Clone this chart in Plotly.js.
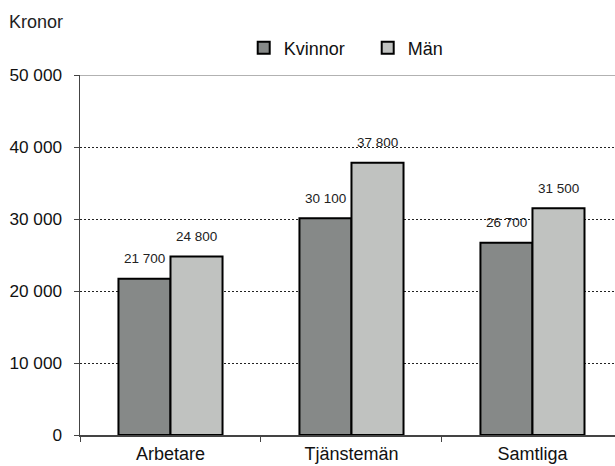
<!DOCTYPE html>
<html>
<head>
<meta charset="utf-8">
<script src="https://cdn.plot.ly/plotly-3.0.1.min.js"></script>
<style>html,body{margin:0;padding:0;background:#fff;}#chart{width:615px;height:466px;}</style>
</head>
<body>
<div id="chart"></div>
<script>
const categories = ["Arbetare", "Tjänstemän", "Samtliga"];
const seriesNames = ["Kvinnor", "Män"];
const kvinnor = [21700, 30100, 26700];
const man = [24800, 37800, 31500];
const yTicks = [0, 10000, 20000, 30000, 40000, 50000];
const yTickLabels = ["0", "10 000", "20 000", "30 000", "40 000", "50 000"];
const yTitle = "Kronor";

const FONT = "Arial, 'Liberation Sans', sans-serif";
const colors = ["#868988", "#c0c2c0"];

function fmt(v) { return String(v).replace(/\B(?=(\d{3})+(?!\d))/g, " "); }

const traces = [kvinnor, man].map((vals, i) => ({
  type: "bar",
  name: seriesNames[i],
  x: categories,
  y: vals,
  marker: { color: colors[i], line: { color: "#000", width: 2 } },
  hoverinfo: "skip"
}));

const annotations = [];
[kvinnor, man].forEach((vals, i) => {
  vals.forEach((v, j) => {
    annotations.push({
      x: categories[j], y: v, xref: "x", yref: "y",
      text: fmt(v), showarrow: false,
      xshift: i === 0 ? -26 : 26, yshift: 20,
      font: { family: FONT, size: 13.5, color: "#222" }
    });
  });
});
annotations.push({
  text: yTitle, xref: "paper", yref: "paper",
  x: -0.1364, y: 1.147, xanchor: "left", yanchor: "middle",
  showarrow: false, font: { family: FONT, size: 18, color: "#222" }
});

const layout = {
  width: 615, height: 466,
  margin: { l: 80, r: 0, t: 75, b: 31 },
  paper_bgcolor: "#fff", plot_bgcolor: "#fff",
  font: { family: FONT, color: "#111" },
  barmode: "group", bargap: 0.425, bargroupgap: 0,
  showlegend: true,
  legend: {
    orientation: "h", x: 0.306, y: 1.075, xanchor: "left", yanchor: "middle",
    font: { family: FONT, size: 18, color: "#111" },
    entrywidth: 79, itemwidth: 30, bgcolor: "rgba(0,0,0,0)"
  },
  xaxis: {
    type: "category", range: [-0.5, 2.456],
    showgrid: false, showline: true, linecolor: "#444", linewidth: 1.5,
    ticks: "outside", tickson: "boundaries", ticklen: 5, tickcolor: "#444",
    ticklabelstandoff: 2,
    tickfont: { family: FONT, size: 18, color: "#111" },
    fixedrange: true
  },
  yaxis: {
    range: [0, 50000], tickvals: yTicks, ticktext: yTickLabels,
    showgrid: true, gridcolor: "#222", gridwidth: 1, griddash: "2px,2px",
    showline: true, linecolor: "#444", linewidth: 1.5,
    ticks: "outside", ticklen: 5, tickcolor: "#444",
    ticklabelstandoff: 8,
    tickfont: { family: FONT, size: 17.2, color: "#111" },
    zeroline: false, fixedrange: true
  },
  shapes: [{
    type: "line", xref: "paper", yref: "y", x0: 0, x1: 1, y0: 50000, y1: 50000,
    line: { color: "#999", width: 1.5 }
  }],
  annotations: annotations
};

Plotly.newPlot("chart", traces, layout, { displayModeBar: false, staticPlot: true });
</script>
</body>
</html>
